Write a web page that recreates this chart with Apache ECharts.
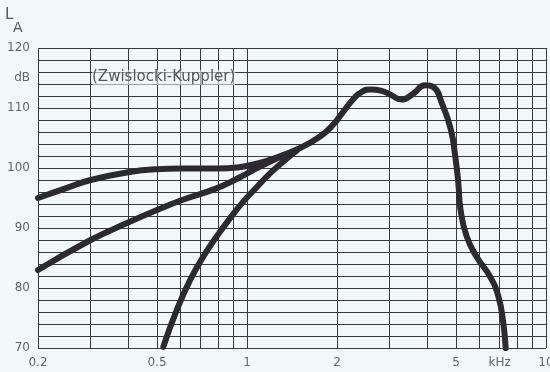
<!DOCTYPE html>
<html>
<head>
<meta charset="utf-8">
<script src="https://cdn.jsdelivr.net/npm/echarts@6/dist/echarts.min.js"></script>
<style>
html,body{margin:0;padding:0;background:#f3f9fb;}
#c{width:550px;height:372px;}
</style>
</head>
<body>
<div id="c"></div>
<script>
// Frequencies in kHz, levels in dB
var xGridValues = [0.2,0.3,0.4,0.5,0.6,0.7,0.8,0.9,1,2,3,4,5,6,7,8,9,10];
var xTickLabels = {0.2:'0.2',0.5:'0.5',1:'1',2:'2',5:'5',7:'kHz',10:'10'};
var yTickLabels = {70:'70',80:'80',90:'90',100:'100',110:'110',120:'120'};
var yUnitLabel = {115:'dB'};

var curveTop = [[0.2,95],[0.25,96.7],[0.3,98],[0.4,99.3],[0.5,99.8],[0.6,99.9],[0.7,99.9],[0.8,99.9],[0.93,100.1],[1.05,100.6],[1.2,101.4],[1.5,103.3],[1.75,105.2],[1.94,107.2],[2.1,109.4],[2.27,111.5],[2.42,112.7],[2.6,113.1],[2.8,112.9],[3.0,112.3],[3.29,111.4],[3.6,112.4],[3.94,113.8],[4.2,113.5],[4.5,110.6],[4.8,106.5],[4.97,102],[5.09,97.5],[5.18,93],[5.43,88.6],[5.86,85.2],[6.5,81.9],[6.93,78.6],[7.2,74.1],[7.33,70]];
var curveMid = [[0.2,83],[0.3,88],[0.4,90.9],[0.5,93],[0.61,94.7],[0.79,96.6],[0.95,98.5],[1.1,100.2],[1.32,102.1]];
var curveLow = [[0.525,70.2],[0.582,76.3],[0.645,81.3],[0.714,85.2],[0.792,88.6],[0.877,91.6],[0.972,94.4],[1.078,96.8],[1.194,99.1],[1.323,101.1],[1.466,102.9]];

var gridColor = '#3a3a3a';
var curveColor = '#2c2a30';
var labelColor = '#666';
var fontFam = 'DejaVu Sans, Liberation Sans, sans-serif';

var chart = echarts.init(document.getElementById('c'));
var curveStyle = {color: curveColor, width: 6, cap: 'round', join: 'round'};

chart.setOption({
  backgroundColor: '#f3f9fb',
  animation: false,
  title: [
    {text: 'L', left: 5, top: 8, padding: 0, textStyle: {fontFamily: fontFam, fontSize: 15, fontWeight: 'normal', color: '#555'}},
    {text: 'A', left: 13, top: 21, padding: 0, textStyle: {fontFamily: fontFam, fontSize: 14, fontWeight: 'normal', color: '#555'}}
  ],
  grid: {left: 38, right: 4, top: 48, bottom: 24, containLabel: false},
  xAxis: {
    type: 'log', logBase: 10, min: 0.2, max: 10,
    axisLine: {show: false}, axisTick: {show: false}, axisLabel: {show: false},
    splitLine: {show: false}
  },
  yAxis: [{
    type: 'value', min: 70, max: 120, interval: 10,
    axisLine: {show: false}, axisTick: {show: false},
    axisLabel: {margin: 8, color: labelColor, fontFamily: fontFam, fontSize: 12,
      formatter: function(v){ return yTickLabels[v] || ''; }},
    splitLine: {show: true, lineStyle: {color: gridColor, width: 1.2}},
    minorTick: {show: false, splitNumber: 5},
    minorSplitLine: {show: true, lineStyle: {color: gridColor, width: 1}}
  },{
    type: 'value', min: 70, max: 120, interval: 5, position: 'left',
    axisLine: {show: false}, axisTick: {show: false}, splitLine: {show: false},
    axisLabel: {margin: 8, color: labelColor, fontFamily: fontFam, fontSize: 12,
      formatter: function(v){ return yUnitLabel[v] || ''; }}
  }],
  graphic: [{
    type: 'text', left: 92, top: 70, z: 10,
    style: {text: '(Zwislocki-Kuppler)', fill: '#555', font: '15px ' + fontFam,
      backgroundColor: 'rgba(243,249,251,0.55)', padding: [0, 0]}
  }],
  series: [
    {
      type: 'line', data: [], silent: true,
      markLine: {
        silent: true, symbol: 'none', animation: false,
        lineStyle: {color: gridColor, width: 1, type: 'solid'},
        label: {show: true, position: 'start', distance: 9, color: labelColor, fontFamily: fontFam, fontSize: 12,
          formatter: function(p){ return xTickLabels[p.value] || ''; }},
        data: xGridValues.map(function(f){ return {xAxis: f}; })
      }
    },
    {type: 'line', data: curveTop, smooth: 0.5, symbol: 'none', lineStyle: curveStyle, z: 5},
    {type: 'line', data: curveMid, smooth: 0.5, symbol: 'none', lineStyle: curveStyle, z: 5},
    {type: 'line', data: curveLow, smooth: 0.5, symbol: 'none', lineStyle: curveStyle, z: 5}
  ]
});
</script>
</body>
</html>
